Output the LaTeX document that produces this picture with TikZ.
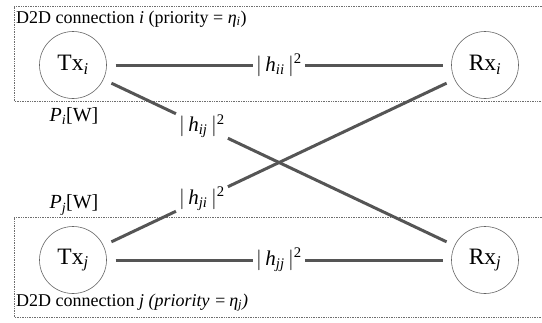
\documentclass[tikz,border=0pt]{standalone}
\usepackage{fontspec}
\setmainfont{Liberation Serif}
\usetikzlibrary{positioning}
\definecolor{devgray}{RGB}{100,100,100}
\definecolor{linkgray}{RGB}{85,85,85}
\definecolor{boxgray}{RGB}{110,110,110}
\newcommand{\gainlbl}[1]{$|$\,\textit{h}\textsubscript{\textit{#1}}\,$|$\textsuperscript{2}}

\begin{document}
\begin{tikzpicture}[x=1pt,y=-1pt,
  dev/.style={circle,draw=devgray,line width=0.6pt,minimum size=67pt,inner sep=0pt,outer sep=9pt,font=\fontsize{23.5}{25}\selectfont},
  link/.style={draw=linkgray,line width=3pt},
  gain/.style={inner sep=3pt,font=\fontsize{21}{23}\selectfont},
  txt/.style={inner sep=0pt,font=\fontsize{18}{20}\selectfont},
  pair/.style={draw=boxgray,densely dotted,line width=0.7pt}]
\useasboundingbox (0,0) rectangle (542,322);
% D2D pairs
\draw[pair] (542,6) -| (14,101) -- (542,101);
\draw[pair] (542,217) -| (14,317) -- (542,317);
\node[txt,anchor=base west] (capi) at (16,23) {D2D connection \textit{i} (priority = \textit{η}\textsubscript{\textit{i}})};
\node[txt,anchor=base west] (capj) at (16,306) {D2D connection \textit{j (priority =}\,\textit{η}\textsubscript{\textit{j}}\textit{)}};
% devices
\node[dev] (txi) at (73,65) {Tx\textsubscript{\textit{i}}};
\node[dev] (rxi) at (485,65) {Rx\textsubscript{\textit{i}}};
\node[dev] (txj) at (73,260) {Tx\textsubscript{\textit{j}}};
\node[dev] (rxj) at (485,260) {Rx\textsubscript{\textit{j}}};
\node[txt,font=\fontsize{20}{22}\selectfont] (pwi) at (74,116) {\textit{P}\textsubscript{\textit{i}}[W]};
\node[txt,font=\fontsize{20}{22}\selectfont] (pwj) at (74,205) {\textit{P}\textsubscript{\textit{j}}[W]};
% channel gains
\path (txi) -- node[gain,pos=0.5] (hii) {\gainlbl{ii}} (rxi);
\path (txj) -- node[gain,pos=0.5] (hjj) {\gainlbl{jj}} (rxj);
\path (txi) -- node[gain,pos=0.27] (hij) {\gainlbl{ij}} (rxj);
\path (txj) -- node[gain,pos=0.27] (hji) {\gainlbl{ji}} (rxi);
\foreach \a/\g/\b in {txi/hii/rxi, txj/hjj/rxj, txi/hij/rxj, txj/hji/rxi}
  \draw[link] (\a) -- (\g) -- (\b);
\end{tikzpicture}
\end{document}
